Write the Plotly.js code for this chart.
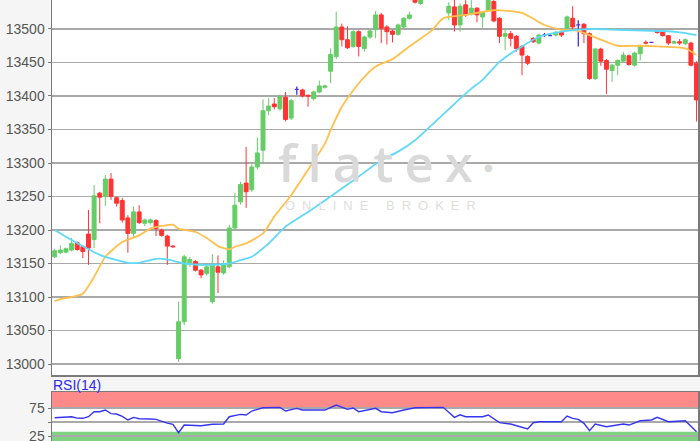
<!DOCTYPE html>
<html><head><meta charset="utf-8">
<script src="https://cdn.plot.ly/plotly-3.0.1.min.js"></script>
<style>
html,body{margin:0;padding:0;width:700px;height:441px;overflow:hidden;background:#f5f5f5;}
#chart{position:absolute;left:0;top:-12px;width:700px;height:480px;}
</style></head><body><div id="chart"></div>
<script>
// ---- candle data (index 0..114) ----
const open  = [13160,13166,13167,13170,13181,13175,13194,13186,13255,13250,13276,13248,13244,13218,13195,13227,13210,13211,13214,13200,13191,13176,13008,13063,13150,13153,13140,13135,13093,13145,13136,13145,13203,13242,13270,13260,13294,13319,13378,13388,13381,13398,13367,13410,13409,13401,13396,13406,13413,13437,13459,13503,13484,13474,13496,13471,13488,13499,13521,13503,13497,13492,13503,13516,13545,13538,13548,13556,13550,13560,13524,13533,13506,13536,13522,13531,13518,13528,13541,13516,13489,13493,13489,13474,13459,13486,13479,13491,13490,13491,13495,13501,13516,13506,13507,13493,13426,13470,13453,13438,13446,13452,13460,13446,13463,13480,13480,13496,13496,13490,13479,13481,13478,13479,13449];
const high  = [13172,13177,13174,13188,13183,13177,13230,13267,13257,13282,13285,13250,13248,13222,13235,13237,13217,13217,13216,13202,13193,13177,13093,13163,13160,13155,13142,13150,13164,13162,13155,13208,13255,13272,13324,13298,13338,13395,13397,13397,13402,13406,13396,13414,13411,13402,13408,13423,13417,13471,13526,13508,13504,13498,13498,13490,13499,13527,13524,13506,13499,13508,13518,13526,13550,13552,13560,13562,13565,13566,13540,13545,13538,13543,13543,13533,13527,13555,13545,13518,13501,13497,13491,13476,13461,13488,13493,13494,13494,13497,13498,13520,13534,13513,13509,13495,13472,13472,13455,13448,13455,13466,13462,13466,13477,13483,13480,13498,13497,13491,13483,13485,13486,13481,13452];
const low   = [13158,13164,13165,13168,13169,13158,13148,13173,13210,13236,13245,13235,13211,13166,13190,13209,13206,13208,13191,13190,13148,13174,13003,13058,13145,13138,13128,13132,13090,13106,13133,13143,13200,13238,13233,13257,13290,13300,13371,13380,13378,13362,13364,13402,13398,13384,13393,13404,13411,13419,13455,13474,13470,13472,13459,13466,13485,13486,13479,13477,13480,13490,13500,13514,13538,13536,13546,13546,13545,13544,13513,13496,13496,13518,13520,13510,13502,13526,13510,13479,13469,13474,13466,13431,13446,13479,13477,13488,13490,13489,13488,13499,13498,13474,13479,13424,13424,13445,13403,13421,13431,13450,13445,13444,13453,13477,13480,13493,13489,13476,13478,13476,13476,13444,13362];
const close = [13169,13170,13172,13180,13171,13168,13173,13251,13249,13276,13250,13240,13215,13195,13227,13211,13215,13215,13202,13192,13176,13175,13063,13160,13156,13140,13133,13145,13148,13137,13150,13203,13237,13268,13257,13294,13315,13378,13385,13384,13399,13365,13393,13410,13400,13400,13406,13415,13415,13462,13503,13484,13472,13496,13474,13488,13497,13521,13501,13496,13492,13506,13516,13521,13540,13544,13556,13550,13560,13548,13534,13506,13534,13521,13531,13521,13525,13543,13512,13489,13493,13486,13471,13461,13449,13481,13491,13491,13490,13495,13491,13518,13503,13506,13493,13426,13470,13452,13440,13446,13453,13461,13447,13464,13475,13479,13480,13495,13490,13479,13481,13479,13484,13446,13394];

// ---- moving averages (candle index, value) ----
const maOrangeX = [0,1,3,5,7,9,12,15,17,19,21,22,25,27,29,31,32,34,37,39,42,45,48,49,51,54,57,60,63,67,69,73,78,83,87,90,93,97,100,104,107,112,114];
const maOrange  = [13094,13097,13100,13105,13130,13160,13182,13192,13202,13206,13208,13202,13197,13188,13176,13171,13175,13180,13195,13220,13252,13290,13329,13349,13384,13419,13444,13455,13474,13498,13516,13521,13528,13524,13506,13499,13497,13484,13475,13475,13474,13471,13461];
const maCyanX = [0,3,8,13,15,18,20,23,27,31,33,35,38,41,45,49,54,58,61,64,66,72,74,76,79,83,86,90,93,96,99,103,108,111,114];
const maCyan  = [13200,13185,13163,13151,13151,13157,13156,13150,13148,13150,13155,13160,13180,13205,13227,13250,13280,13304,13317,13334,13349,13396,13411,13424,13451,13474,13488,13496,13499,13500,13499,13498,13497,13495,13491];

// ---- RSI(14) ----
const rsiX = [0,2,3,4,5,6,7,8,9,10,11,12,13,14,15,17,18,20,21,22,23,26,28,30,31,33,34,35,37,40,41,43,44,48,50,52,53,54,57,58,60,62,64,69,71,72,73,76,77,79,81,84,85,86,90,91,92,93,94,95,96,98,101,102,104,106,107,109,112,114];
const rsi  = [57.7,58.5,59.5,57,56.6,59.5,68.4,68.4,71.4,65,64.3,60,53.6,58.3,55.9,55.5,54.8,48,45.9,30.9,44.6,43.4,45.9,46.4,59.5,63.7,62.5,69.6,75.5,76.2,69.6,74.4,71.4,71.4,80.4,72.7,75,68.4,74.4,68.4,66.6,71.4,75.5,76.2,58.4,63,59.5,59.5,62.5,48.8,46.4,37.5,48.8,50.5,50.5,60.7,56.6,54.8,47.7,34.5,46.4,41.6,46.4,44.6,52.3,53.6,58.4,50.5,52.3,32.7];

const yTicks = [13000,13050,13100,13150,13200,13250,13300,13350,13400,13450,13500,13550];
const yTickText = ['13000','13050','13100','13150','13200','13250','13300','13350','13400','13450','13500','13550'];
const rsiTicks = [25,50,75];
const rsiTickText = ['25','','75'];

// ---- build ----
const idx = open.map((_, i) => i);
const isDoji = open.map((o, i) => o === close[i]);
const pick = (arr, want) => arr.filter((_, i) => isDoji[i] === want);

const GREEN = '#66cc66', RED = '#ff3333', BLUE = '#4a2ee0';
const FONT = 'Liberation Sans, Arial, sans-serif';

const traces = [
  {type:'candlestick', x:pick(idx,false), open:pick(open,false), high:pick(high,false), low:pick(low,false), close:pick(close,false),
   increasing:{line:{color:GREEN,width:1}, fillcolor:GREEN}, decreasing:{line:{color:RED,width:1}, fillcolor:RED},
   whiskerwidth:0, xaxis:'x', yaxis:'y', hoverinfo:'skip', showlegend:false},
  {type:'candlestick', x:pick(idx,true), open:pick(open,true), high:pick(high,true), low:pick(low,true), close:pick(close,true),
   increasing:{line:{color:BLUE,width:1.3}, fillcolor:BLUE}, decreasing:{line:{color:BLUE,width:1.3}, fillcolor:BLUE},
   whiskerwidth:0, xaxis:'x', yaxis:'y', hoverinfo:'skip', showlegend:false},
  {type:'scatter', mode:'lines', x:maOrangeX, y:maOrange, line:{color:'#ffc04d', width:1.8, shape:'spline', smoothing:0.6},
   xaxis:'x', yaxis:'y', hoverinfo:'skip', showlegend:false},
  {type:'scatter', mode:'lines', x:maCyanX, y:maCyan, line:{color:'#5fd9f7', width:1.8, shape:'spline', smoothing:0.6},
   xaxis:'x', yaxis:'y', hoverinfo:'skip', showlegend:false},
  {type:'scatter', mode:'lines', x:rsiX, y:rsi, line:{color:'#3535f0', width:1.4},
   xaxis:'x2', yaxis:'y2', hoverinfo:'skip', showlegend:false}
];

const H = 480;
const py = (yPage) => (468 - yPage) / 476; // page y -> paper fraction
const px = (xPage) => (xPage - 52) / 646;

const axisLine = '#7a7a7a', grid = '#a9a9a9';
const layout = {
  width:700, height:H,
  margin:{l:52, r:2, t:4, b:0},
  paper_bgcolor:'#f5f5f5', plot_bgcolor:'#ffffff',
  showlegend:false,
  boxgap:0.3, boxgroupgap:0,
  xaxis:{domain:[0,1], range:[-0.48,114.26], showticklabels:false, showgrid:false, zeroline:false,
         showline:true, mirror:true, linecolor:axisLine, linewidth:1.5, rangeslider:{visible:false}, anchor:'y'},
  yaxis:{domain:[py(375),1], range:[12983.6,13555.2], tickvals:yTicks, ticktext:yTickText, showgrid:true, gridcolor:grid, gridwidth:1.4,
         zeroline:false, showline:true, mirror:true, linecolor:axisLine, linewidth:1.5,
         ticks:'outside', ticklen:3, tickcolor:axisLine, tickfont:{family:FONT, size:14, color:'#555'}, anchor:'x'},
  xaxis2:{domain:[0,1], range:[-0.48,114.26], showticklabels:false, showgrid:false, zeroline:false,
          showline:true, mirror:true, linecolor:axisLine, linewidth:1.5, anchor:'y2'},
  yaxis2:{domain:[0,py(392)], range:[-32.1,103.6], tickvals:rsiTicks, ticktext:rsiTickText, showgrid:true,
          gridcolor:grid, gridwidth:1.4, zeroline:false, showline:true, mirror:true, linecolor:axisLine, linewidth:1.5,
          ticks:'outside', ticklen:3, tickcolor:axisLine, tickfont:{family:FONT, size:14, color:'#555'}, anchor:'x2'},
  shapes:[
    {type:'rect', xref:'x2 domain', yref:'y2', x0:0, x1:1, y0:75, y1:103.6, fillcolor:'#ff8a8a', line:{width:0}, layer:'below'},
    {type:'rect', xref:'x2 domain', yref:'y2', x0:0, x1:1, y0:-32.1, y1:32.5, fillcolor:'#7fd27f', line:{width:0}, layer:'below'}
  ],
  annotations:[
    {xref:'paper', yref:'paper', x:px(381), y:py(162), xanchor:'center', yanchor:'middle', showarrow:false,
     text:'<span style="letter-spacing:11px">flatex</span>', font:{family:'Open Sans, sans-serif', size:51, color:'#d9d9d9', weight:600}},
    {xref:'paper', yref:'paper', x:px(488), y:py(167), xanchor:'center', yanchor:'middle', showarrow:false,
     text:'●', font:{family:'DejaVu Sans', size:10, color:'#d9d9d9'}},
    {xref:'paper', yref:'paper', x:px(384), y:py(206), xanchor:'center', yanchor:'middle', showarrow:false,
     text:'<span style="letter-spacing:7px">ONLINE BROKER</span>', font:{family:FONT, size:13, color:'#dedede'}},
    {xref:'paper', yref:'paper', x:0, y:py(385), xanchor:'left', yanchor:'middle', xshift:-1, showarrow:false,
     text:'RSI(14)', font:{family:FONT, size:14, color:'#2a2aee'}}
  ]
};

Plotly.newPlot('chart', traces, layout, {staticPlot:true, displayModeBar:false});
</script></body></html>
